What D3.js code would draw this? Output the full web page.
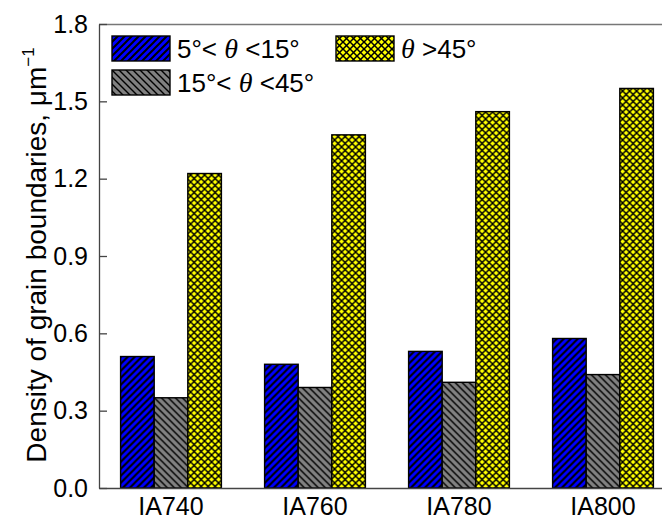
<!DOCTYPE html>
<html>
<head>
<meta charset="utf-8">
<script src="https://cdn.jsdelivr.net/npm/d3@7"></script>
<style>
  html, body { margin: 0; padding: 0; background: #ffffff; }
  svg { display: block; }
  text { font-family: "Liberation Sans", Arial, sans-serif; fill: #000; }
</style>
</head>
<body>
<svg id="chart" width="662" height="521"></svg>
<script>
const categories = ["IA740", "IA760", "IA780", "IA800"];
const seriesNames = ["low", "mid", "high"];
const lowAngle = [0.51, 0.48, 0.53, 0.58];   // 5° < θ < 15°
const midAngle = [0.35, 0.39, 0.41, 0.44];   // 15° < θ < 45°
const highAngle = [1.22, 1.37, 1.46, 1.55];  // θ > 45°
const yTicks = [0.0, 0.3, 0.6, 0.9, 1.2, 1.5, 1.8];

const seriesValues = { low: lowAngle, mid: midAngle, high: highAngle };

const svg = d3.select("#chart");
const m = { left: 99, top: 24, bottom: 488, right: 675 };

// patterns
const defs = svg.append("defs");
function hatch(id, bg, dirs, size, sw) {
  const p = defs.append("pattern").attr("id", id)
    .attr("patternUnits", "userSpaceOnUse").attr("width", size).attr("height", size);
  p.append("rect").attr("width", size).attr("height", size).attr("fill", bg);
  dirs.forEach(d => {
    if (d === "/") {
      p.append("path").attr("d", `M0,${size} L${size},0 M${-size/2},${size/2} L${size/2},${-size/2} M${size/2},${size*1.5} L${size*1.5},${size/2}`)
        .attr("stroke", "#000").attr("stroke-width", sw);
    } else {
      p.append("path").attr("d", `M0,0 L${size},${size} M${-size/2},${size/2} L${size/2},${size*1.5} M${size/2},${-size/2} L${size*1.5},${size/2}`)
        .attr("stroke", "#000").attr("stroke-width", sw);
    }
  });
}
hatch("pBlue", "#0000ff", ["/"], 7, 2);
hatch("pGray", "#808080", ["\\"], 7, 1.4);
hatch("pYellow", "#ffff00", ["/", "\\"], 7, 1.5);
const fills = { low: "url(#pBlue)", mid: "url(#pGray)", high: "url(#pYellow)" };

const x0 = d3.scaleBand().domain(categories).range([m.left, m.right])
  .paddingInner(0.3).paddingOuter(0.15);
const x1 = d3.scaleBand().domain(seriesNames).range([0, x0.bandwidth()]).padding(0);
const y = d3.scaleLinear().domain([0, 1.8]).range([m.bottom, m.top]);

svg.append("rect").attr("x", m.left).attr("y", m.top)
  .attr("width", m.right - m.left).attr("height", m.bottom - m.top).attr("fill", "#fff");

// top frame line
svg.append("line").attr("x1", m.left).attr("x2", m.right)
  .attr("y1", m.top + 0.5).attr("y2", m.top + 0.5)
  .attr("stroke", "#777").attr("stroke-width", 1.3);

// bars
const groups = svg.append("g").selectAll("g").data(categories).join("g")
  .attr("transform", d => `translate(${x0(d)},0)`);
groups.selectAll("rect")
  .data((c, i) => seriesNames.map(s => ({ s, v: seriesValues[s][i] })))
  .join("rect")
  .attr("x", d => x1(d.s))
  .attr("y", d => y(d.v))
  .attr("width", x1.bandwidth())
  .attr("height", d => y(0) - y(d.v))
  .attr("fill", d => fills[d.s])
  .attr("stroke", "#000").attr("stroke-width", 1.4);

// y axis
const yAxis = svg.append("g").attr("transform", `translate(${m.left},0)`)
  .call(d3.axisLeft(y).tickValues(yTicks).tickFormat(d3.format(".1f"))
    .tickSizeInner(-8).tickSizeOuter(0).tickPadding(11));
yAxis.select(".domain").attr("stroke", "#444").attr("stroke-width", 1.3);
yAxis.selectAll(".tick line").attr("stroke", "#444").attr("stroke-width", 1.3);
yAxis.selectAll(".tick text").attr("font-size", 25)
  .attr("font-family", "'Liberation Sans', Arial, sans-serif").attr("fill", "#000");

// x axis
const xAxis = svg.append("g").attr("transform", `translate(0,${m.bottom})`)
  .call(d3.axisBottom(x0).tickSize(0).tickSizeOuter(0).tickPadding(9));
xAxis.select(".domain").attr("stroke", "#444").attr("stroke-width", 1.3);
xAxis.selectAll(".tick text").attr("font-size", 25)
  .attr("font-family", "'Liberation Sans', Arial, sans-serif").attr("fill", "#000");

// y label
const yl = svg.append("text")
  .attr("transform", `translate(46,255) rotate(-90)`)
  .attr("text-anchor", "middle").attr("font-size", 28);
yl.append("tspan").text("Density of grain boundaries, μm");
yl.append("tspan").attr("font-size", 17).attr("dy", -12).text("−1");

// legend
const legendItems = [
  { s: "low", x: 112, y: 36, parts: ["5°< ", "θ", " <15°"] },
  { s: "mid", x: 112, y: 70, parts: ["15°< ", "θ", " <45°"] },
  { s: "high", x: 336, y: 36, parts: ["", "θ", " >45°"] }
];
const lg = svg.append("g");
legendItems.forEach(it => {
  lg.append("rect").attr("x", it.x).attr("y", it.y).attr("width", 58).attr("height", 25)
    .attr("fill", fills[it.s]).attr("stroke", "#000").attr("stroke-width", 1.4);
  const t = lg.append("text").attr("x", it.x + 65).attr("y", it.y + 22).attr("font-size", 26);
  t.append("tspan").text(it.parts[0]);
  t.append("tspan").attr("font-family", "'Liberation Serif', 'Times New Roman', serif")
    .attr("font-style", "italic").attr("font-size", 28).text(it.parts[1]);
  t.append("tspan").text(it.parts[2]);
});
</script>
</body>
</html>
